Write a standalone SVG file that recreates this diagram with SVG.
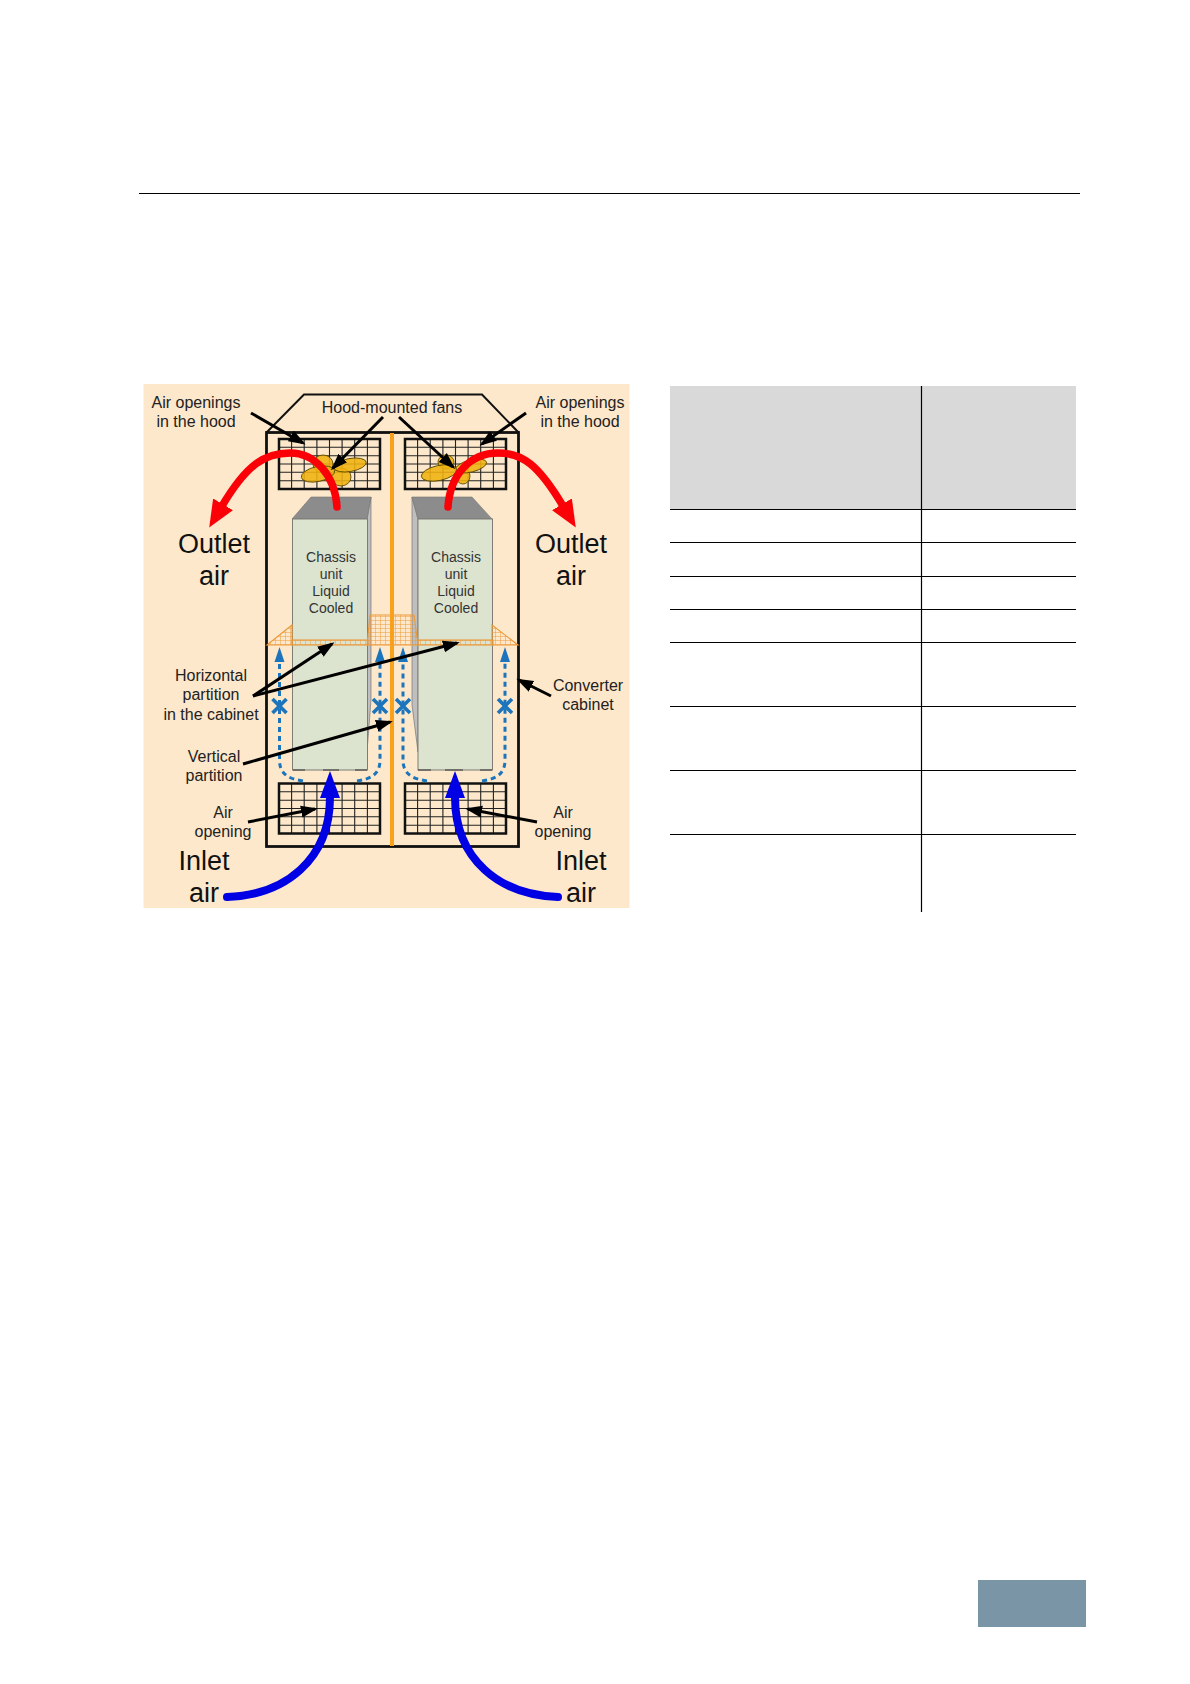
<svg xmlns="http://www.w3.org/2000/svg" width="1190" height="1684" viewBox="0 0 1190 1684">
<style>
text{font-family:"Liberation Sans",Arial,sans-serif;fill:#222;text-anchor:middle}
.s16{font-size:16px}.s14{font-size:14px;fill:#333}.s27{font-size:27px;fill:#111}
.rule{stroke:#000;stroke-width:1;fill:none}
.trule{stroke:#000;stroke-width:1.2;fill:none}
.leader{stroke:#000;stroke-width:3;fill:none;marker-end:url(#mBlack)}
.outlet{stroke:#fb0006;stroke-width:7.5;fill:none;stroke-linecap:round;marker-end:url(#mRed)}
.inlet{stroke:#0000e4;stroke-width:8;fill:none;stroke-linecap:round;marker-end:url(#mBlue)}
.flow{stroke:#1c75bc;stroke-width:3;stroke-dasharray:5 4;fill:none;marker-end:url(#mFlow)}
.cross{stroke:#1c75bc;stroke-width:3.6;fill:none}
.front{fill:#dce3cf;stroke:#7d7d75;stroke-width:1}
.top{fill:#8c8c8c;stroke:#777;stroke-width:.6}
.side{fill:#bfbfbf;stroke:#666;stroke-width:.6}
.fan{fill:#f0b210;fill-opacity:.88;stroke:#5f4c00;stroke-width:.9}
.mesh{fill:url(#pMesh);stroke:#eb9a3a;stroke-width:1.1}
.dash{stroke:#333;stroke-width:1.2;fill:none}
</style>
<defs>
<marker id="mBlack" markerUnits="userSpaceOnUse" markerWidth="20" markerHeight="16" refX="14" refY="8" orient="auto"><path d="M0,2 L17,8 L0,14 Z" fill="#000"/></marker>
<marker id="mRed" markerUnits="userSpaceOnUse" markerWidth="32" markerHeight="30" refX="2" refY="15" orient="auto"><path d="M0,3.500 L27,15 L0,26.500 Z" fill="#fb0006"/></marker>
<marker id="mBlue" markerUnits="userSpaceOnUse" markerWidth="32" markerHeight="30" refX="1" refY="15" orient="auto"><path d="M0,5 L27,15 L0,25 Z" fill="#0000e4"/></marker>
<marker id="mFlow" markerUnits="userSpaceOnUse" markerWidth="18" markerHeight="12" refX="1" refY="6" orient="auto"><path d="M0,1 L15,6 L0,11 Z" fill="#1c75bc"/></marker>
<pattern id="pMesh" patternUnits="userSpaceOnUse" width="5" height="4"><path d="M0,0H5M0,0V4" stroke="#eb9a3a" stroke-width="1" fill="none"/></pattern>
<g id="grid">
<path d="M12.600,0V50M25.200,0V50M37.900,0V50M50.500,0V50M63.100,0V50M75.700,0V50M88.400,0V50M0,8.300H101M0,16.700H101M0,25H101M0,33.300H101M0,41.700H101" stroke="#222" stroke-width="1.100" fill="none"/>
<rect x="0" y="0" width="101" height="50" fill="none" stroke="#111" stroke-width="2.500"/>
</g>
</defs>

<rect width="1190" height="1684" fill="#ffffff"/>
<line id="header-rule" class="rule" x1="139" y1="193.500" x2="1080" y2="193.500"/>

<g id="figure">
<rect id="panel" x="143.500" y="384" width="486" height="524" fill="#fde8cb"/>

<g id="cabinet">
<rect x="266.500" y="432.500" width="252" height="414" fill="none" stroke="#111" stroke-width="2.800"/>
<path d="M266.500,432.500 L304,394.500 H482 L518.500,432.500" fill="none" stroke="#111" stroke-width="2"/>
</g>
<rect id="vertical-partition" x="390" y="433" width="4" height="413" fill="#f9a11b"/>

<g id="grid-top-left"><use href="#grid" x="279" y="439"/></g>
<g id="grid-top-right"><use href="#grid" x="405" y="439"/></g>
<g id="grid-bottom-left"><use href="#grid" x="279" y="783.500"/></g>
<g id="grid-bottom-right"><use href="#grid" x="405" y="783.500"/></g>

<g id="fan-left">
<ellipse class="fan" cx="323" cy="464" rx="10" ry="9"/>
<ellipse class="fan" cx="341" cy="477" rx="10" ry="9"/>
<ellipse class="fan" cx="350" cy="465" rx="16.500" ry="6.500" transform="rotate(-10 350 465)"/>
<ellipse class="fan" cx="318" cy="474" rx="17" ry="7.500" transform="rotate(-12 318 474)"/>
</g>
<g id="fan-right">
<ellipse class="fan" cx="446" cy="462" rx="8" ry="7"/>
<ellipse class="fan" cx="463" cy="476" rx="7" ry="8"/>
<ellipse class="fan" cx="471" cy="466" rx="16" ry="6" transform="rotate(-14 471 466)"/>
<ellipse class="fan" cx="439" cy="473" rx="18" ry="7.500" transform="rotate(-12 439 473)"/>
</g>

<g id="chassis-left">
<polygon class="side" points="367,519 371,497 371,700 367,752"/>
<polygon class="top" points="292,519 311,497 371,497 367,519"/>
<rect class="front" x="292.500" y="519" width="75" height="251"/>
<text class="s14" x="331" y="562">Chassis</text>
<text class="s14" x="331" y="579">unit</text>
<text class="s14" x="331" y="596">Liquid</text>
<text class="s14" x="331" y="613">Cooled</text>
</g>
<g id="chassis-right">
<polygon class="side" points="418,519 412,497 412,705 418,752"/>
<polygon class="top" points="418,519 412,497 472,497 492,519"/>
<rect class="front" x="418" y="519" width="74.500" height="251"/>
<text class="s14" x="456" y="562">Chassis</text>
<text class="s14" x="456" y="579">unit</text>
<text class="s14" x="456" y="596">Liquid</text>
<text class="s14" x="456" y="613">Cooled</text>
</g>

<g id="horizontal-partition">
<polygon class="mesh" points="267,645 292,625 292,645"/>
<rect class="mesh" x="292" y="640" width="76" height="5"/>
<polygon class="mesh" points="370,615 414,615 418,645 367,645"/>
<rect class="mesh" x="418" y="640" width="75" height="5"/>
<polygon class="mesh" points="492,625 518,645 492,645"/>
</g>
<rect x="390" y="610" width="4" height="40" fill="#f9a11b"/>

<g id="connectors">
<g id="bottom-edge-dashes">
<path class="dash" d="M293,770H305M323,770H339M355,770H367"/>
<path class="dash" d="M418,770H431M445,770H463M480,770H492"/>
</g>
<path class="flow" d="M303,781 C290,779 279.500,775 279.500,760 L279.500,661"/>
<path class="flow" d="M357,781 C370,779 380,775 380,760 L380,661"/>
<path class="flow" d="M427,781 C414,779 403,775 403,760 L403,661"/>
<path class="flow" d="M482,781 C495,779 505,775 505,760 L505,661"/>
<path class="cross" d="M272.500,699 L286.500,713 M286.500,699 L272.500,713"/>
<path class="cross" d="M373,699 L387,713 M387,699 L373,713"/>
<path class="cross" d="M396,699 L410,713 M410,699 L396,713"/>
<path class="cross" d="M498,699 L512,713 M512,699 L498,713"/>

<path class="outlet" d="M337,507 C335,475 315,453 290,453 C265,453 247,464 222,506"/>
<path class="outlet" d="M448,507 C450,475 470,453 498,453 C522,453 538,464 563,506"/>
<path class="inlet" d="M227,897 C285,895 330,860 330,797"/>
<path class="inlet" d="M558,897 C500,895 455,860 455,797"/>

<line class="leader" x1="251" y1="413" x2="303" y2="443"/>
<line class="leader" x1="383" y1="417" x2="333" y2="468"/>
<line class="leader" x1="399" y1="417" x2="453" y2="467"/>
<line class="leader" x1="526" y1="413" x2="482" y2="444"/>
<line class="leader" x1="253" y1="696" x2="332" y2="644"/>
<line class="leader" x1="253" y1="696" x2="457" y2="643"/>
<line class="leader" x1="243" y1="764" x2="390" y2="722"/>
<line class="leader" x1="248" y1="822" x2="315" y2="809"/>
<line class="leader" x1="537" y1="822" x2="468" y2="809"/>
<line class="leader" x1="551" y1="696" x2="519" y2="680"/>
</g>

<g id="labels">
<text class="s16" x="196" y="408">Air openings</text>
<text class="s16" x="196" y="427">in the hood</text>
<text class="s16" x="392" y="413">Hood-mounted fans</text>
<text class="s16" x="580" y="408">Air openings</text>
<text class="s16" x="580" y="427">in the hood</text>
<text class="s27" x="214" y="553">Outlet</text>
<text class="s27" x="214" y="585">air</text>
<text class="s27" x="571" y="553">Outlet</text>
<text class="s27" x="571" y="585">air</text>
<text class="s16" x="211" y="681">Horizontal</text>
<text class="s16" x="211" y="700">partition</text>
<text class="s16" x="211" y="720">in the cabinet</text>
<text class="s16" x="214" y="762">Vertical</text>
<text class="s16" x="214" y="781">partition</text>
<text class="s16" x="223" y="818">Air</text>
<text class="s16" x="223" y="837">opening</text>
<text class="s16" x="563" y="818">Air</text>
<text class="s16" x="563" y="837">opening</text>
<text class="s16" x="588" y="691">Converter</text>
<text class="s16" x="588" y="710">cabinet</text>
<text class="s27" x="204" y="870">Inlet</text>
<text class="s27" x="204" y="902">air</text>
<text class="s27" x="581" y="870">Inlet</text>
<text class="s27" x="581" y="902">air</text>
</g>
</g>

<g id="table">
<rect x="670" y="386" width="406" height="123" fill="#d9d9d9"/>
<line class="trule" x1="921.500" y1="386" x2="921.500" y2="912"/>
<line class="trule" x1="670" y1="509.500" x2="1076" y2="509.500"/>
<line class="trule" x1="670" y1="542.500" x2="1076" y2="542.500"/>
<line class="trule" x1="670" y1="576.500" x2="1076" y2="576.500"/>
<line class="trule" x1="670" y1="609.500" x2="1076" y2="609.500"/>
<line class="trule" x1="670" y1="642.500" x2="1076" y2="642.500"/>
<line class="trule" x1="670" y1="706.500" x2="1076" y2="706.500"/>
<line class="trule" x1="670" y1="770.500" x2="1076" y2="770.500"/>
<line class="trule" x1="670" y1="834.500" x2="1076" y2="834.500"/>
</g>

<rect id="page-tab" x="978" y="1580" width="108" height="47" fill="#7a95a6"/>
</svg>
